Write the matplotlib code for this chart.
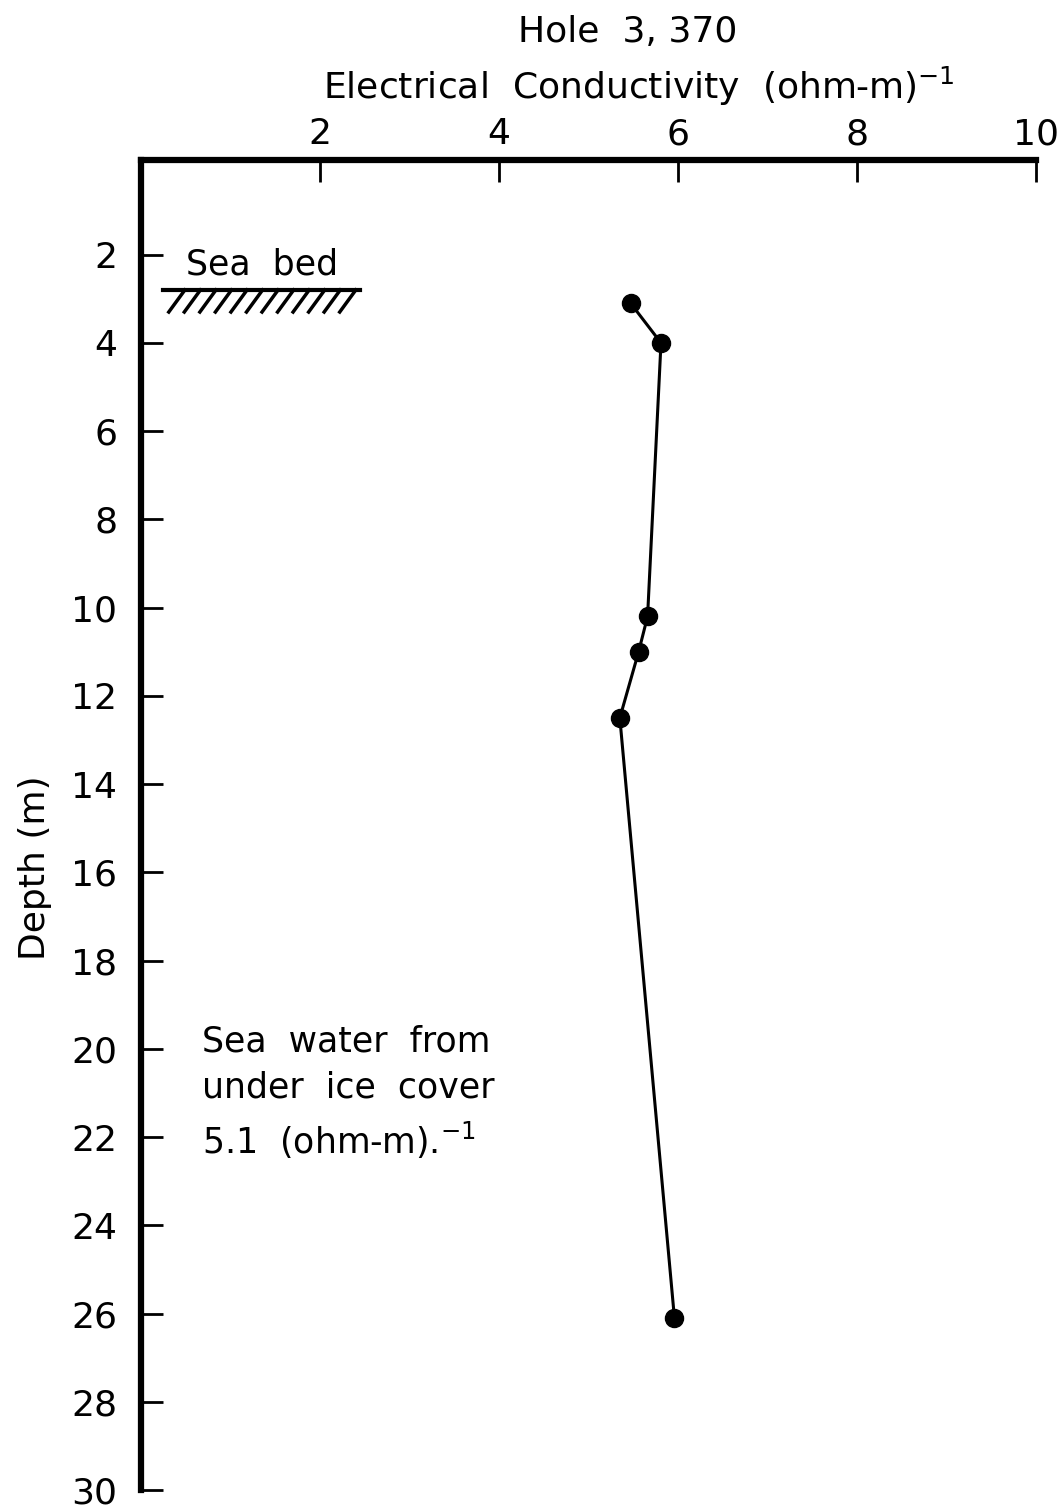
import matplotlib.pyplot as plt
import numpy as np

# conductivity (ohm-m)^-1 vs depth (m), hole 3, 370
conductivity = [5.47, 5.81, 5.66, 5.56, 5.35, 5.96]
depth = [3.1, 4.0, 10.2, 11.0, 12.5, 26.1]

x_ticks = [2, 4, 6, 8, 10]
y_ticks = list(range(2, 31, 2))

seabed_depth = 2.8
seabed_x = (0.24, 2.45)


def main():
    fig = plt.figure(figsize=(10.62, 15.09), dpi=100)
    ax = fig.add_axes([0.1328, 0.0126, 0.8427, 0.8815])

    ax.plot(conductivity, depth, color="black", lw=2.2, marker="o",
            markersize=13, zorder=3)

    ax.set_xlim(0, 10)
    ax.set_ylim(30, -0.15)

    # axes on top and left only
    ax.spines["right"].set_visible(False)
    ax.spines["bottom"].set_visible(False)
    ax.spines["top"].set_linewidth(4.5)
    ax.spines["left"].set_linewidth(4.5)
    ax.xaxis.tick_top()
    ax.set_xticks(x_ticks)
    ax.set_yticks(y_ticks)
    ax.tick_params(axis="both", direction="in", length=16, width=2,
                   labelsize=26)
    ax.tick_params(axis="x", pad=6)
    ax.tick_params(axis="y", pad=17)

    ax.set_ylabel("Depth (m)", fontsize=26)
    ax.yaxis.set_label_coords(-0.100, 0.468)

    fig.text(0.591, 0.979, "Hole  3, 370", fontsize=26, ha="center",
             va="center")
    fig.text(0.602, 0.943, "Electrical  Conductivity  (ohm-m)$^{-1}$",
             fontsize=26, ha="center", va="center")

    # sea bed marker with hatch
    ax.plot(seabed_x, [seabed_depth, seabed_depth], color="black", lw=3,
            clip_on=False)
    for xs in np.linspace(seabed_x[0] + 0.25, seabed_x[1] - 0.05, 12):
        ax.plot([xs, xs - 0.18], [seabed_depth, seabed_depth + 0.5],
                color="black", lw=2.5)
    ax.text(0.5, 2.6, "Sea  bed", fontsize=25, ha="left", va="bottom")

    ax.text(0.68, 21.0, "Sea  water  from\nunder  ice  cover\n5.1  (ohm-m).$^{-1}$",
            fontsize=25, ha="left", va="center", linespacing=1.45)

    fig.savefig("out.png", dpi=100)


if __name__ == "__main__":
    main()
